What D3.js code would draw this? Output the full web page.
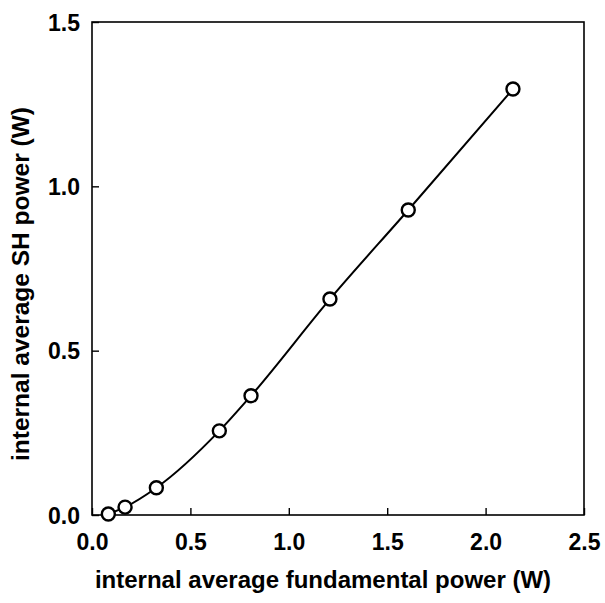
<!DOCTYPE html>
<html><head><meta charset="utf-8">
<script src="https://cdn.jsdelivr.net/npm/d3@7/dist/d3.min.js"></script>
<style>body{margin:0;background:#fff}svg{display:block}</style>
</head><body>
<svg id="c" width="605" height="603"></svg>
<script>
const fundamental = [0.083, 0.168, 0.327, 0.647, 0.808, 1.209, 1.607, 2.139];
const shPower     = [0.003, 0.024, 0.083, 0.256, 0.363, 0.657, 0.928, 1.296];
const xTicks = [0, 0.5, 1.0, 1.5, 2.0, 2.5];
const yTicks = [0, 0.5, 1.0, 1.5];
const xTitle = "internal average fundamental power (W)";
const yTitle = "internal average SH power (W)";

const svg = d3.select("#c");
const L = 92, R = 584, T = 22, B = 515;
const x = d3.scaleLinear().domain([0, 2.5]).range([L, R]);
const y = d3.scaleLinear().domain([0, 1.5]).range([B, T]);
const font = "'Liberation Sans', Arial, sans-serif";

svg.append("rect").attr("x", L).attr("y", T).attr("width", R - L).attr("height", B - T)
  .attr("fill", "none").attr("stroke", "#000").attr("stroke-width", 1.6);

const xa = svg.append("g").attr("transform", `translate(0,${B})`)
  .call(d3.axisBottom(x).tickValues(xTicks).tickSize(-7).tickPadding(19).tickFormat(d3.format(".1f")));
const ya = svg.append("g").attr("transform", `translate(${L},0)`)
  .call(d3.axisLeft(y).tickValues(yTicks).tickSize(-7).tickPadding(12).tickFormat(d3.format(".1f")));
[xa, ya].forEach(g => {
  g.select(".domain").remove();
  g.selectAll(".tick line").attr("stroke", "#000").attr("stroke-width", 1.4);
  g.selectAll(".tick text").attr("fill", "#000").attr("font-family", font)
    .attr("font-weight", "bold").attr("font-size", 23);
});
xa.selectAll(".tick text").attr("dy", "0.71em");
ya.selectAll(".tick text").attr("dy", "0.36em");

svg.append("text").attr("x", 323).attr("y", 588).attr("text-anchor", "middle")
  .attr("font-family", font).attr("font-weight", "bold").attr("font-size", 24).text(xTitle);
svg.append("text").attr("transform", `translate(29,284) rotate(-90)`).attr("text-anchor", "middle")
  .attr("font-family", font).attr("font-weight", "bold").attr("font-size", 24.5).text(yTitle);

const pts = fundamental.map((f, i) => [f, shPower[i]]);
svg.append("path").datum(pts)
  .attr("d", d3.line().x(d => x(d[0])).y(d => y(d[1])).curve(d3.curveMonotoneX))
  .attr("fill", "none").attr("stroke", "#000").attr("stroke-width", 2);
svg.selectAll("circle.p").data(pts).join("circle").attr("class", "p")
  .attr("cx", d => x(d[0])).attr("cy", d => y(d[1])).attr("r", 6.5)
  .attr("fill", "#fff").attr("stroke", "#000").attr("stroke-width", 2.4);
</script>
</body></html>
